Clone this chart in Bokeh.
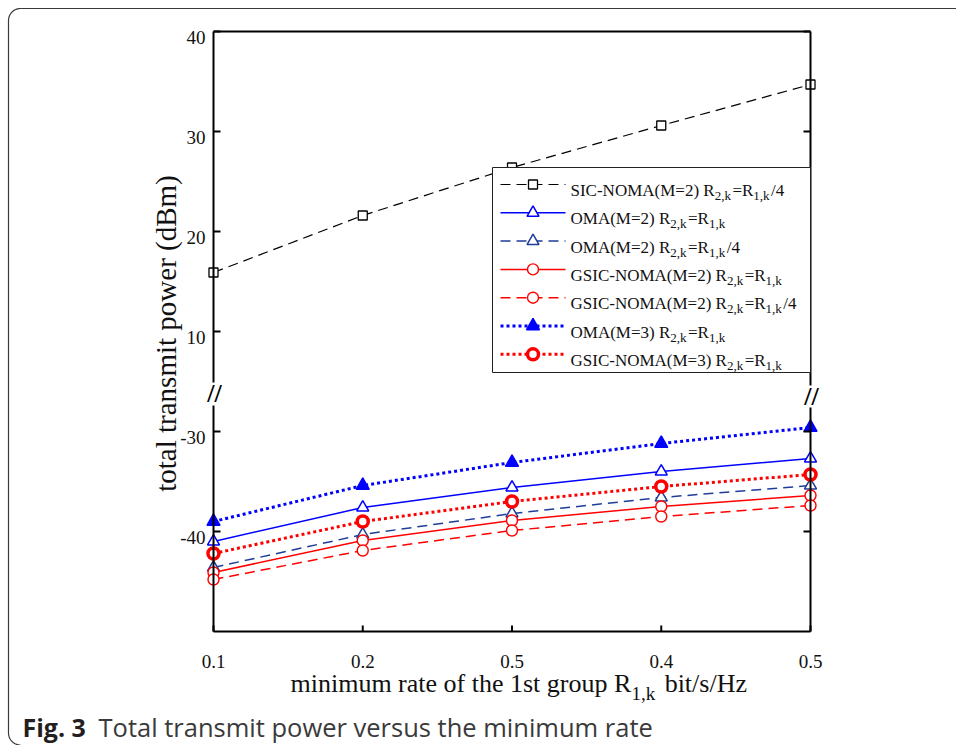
import math
from bokeh.plotting import figure
from bokeh.models import Range1d
from bokeh.core.properties import value
from bokeh.embed import file_html
from bokeh.resources import INLINE

# ---------------- data ----------------
rates = [0.1, 0.2, 0.3, 0.4, 0.5]
rate_tick_labels = ["0.1", "0.2", "0.5", "0.4", "0.5"]

sic_noma_m2_r4 = [15.9, 21.6, 26.4, 30.6, 34.7]
oma_m2_r1 = [-41.0, -37.6, -35.6, -34.0, -32.7]
oma_m2_r4 = [-43.6, -40.3, -38.2, -36.6, -35.4]
gsic_m2_r1 = [-44.1, -40.9, -38.9, -37.5, -36.4]
gsic_m2_r4 = [-44.8, -41.9, -39.9, -38.5, -37.4]
oma_m3_r1 = [-39.0, -35.4, -33.1, -31.2, -29.6]
gsic_m3_r1 = [-42.2, -39.0, -37.0, -35.5, -34.3]

upper_ticks = [10, 20, 30, 40]
lower_ticks = [-40, -30]

# ---------------- broken axis mapping ----------------
BREAK_SHIFT = 30          # lower segment is drawn shifted up by this amount
Y_MIN, Y_MAX = -20, 40    # plotted (broken) coordinates of the axes box
X_MIN, X_MAX = rates[0], rates[-1]

# ---------------- layout (page pixels) ----------------
FIG_W, FIG_H = 956, 745
FRAME_L, FRAME_R, FRAME_T, FRAME_B = 213, 810, 31, 631


def px2x(px):
    return X_MIN + (px - FRAME_L) / (FRAME_R - FRAME_L) * (X_MAX - X_MIN)


def py2y(py):
    return Y_MAX - (py - FRAME_T) / (FRAME_B - FRAME_T) * (Y_MAX - Y_MIN)


def lower(vals):
    return [v + BREAK_SHIFT for v in vals]


SERIF = "Liberation Serif"
TIMES_W = {' ': 250, '(': 333, ')': 333, '=': 564, '-': 333, '/': 278, ',': 250, '.': 250,
           'S': 556, 'I': 333, 'C': 667, 'N': 722, 'O': 722, 'M': 889, 'A': 722, 'G': 722,
           'R': 667, 'H': 722, 'k': 500, 'a': 444, 'b': 500, 'e': 444, 'f': 333, 'g': 500,
           'h': 500, 'i': 278, 'm': 778, 'n': 500, 'o': 500, 'p': 500, 'r': 333, 's': 389,
           't': 278, 'u': 500, 'z': 444}


def tw(s, size):
    return sum(TIMES_W.get(c, 500) for c in s) / 1000.0 * size


# The plotting frame covers the whole canvas so that nothing is clipped.
p = figure(width=FIG_W, height=FIG_H,
           x_range=Range1d(px2x(0), px2x(FIG_W)), y_range=Range1d(py2y(FIG_H), py2y(0)),
           x_axis_type=None, y_axis_type=None,
           output_backend="svg", toolbar_location=None,
           min_border=0)
p.outline_line_color = None
p.background_fill_color = "white"
p.border_fill_color = "white"


def txt(x, y, s, size, font=SERIF, align="left", baseline="alphabetic", color="#111111",
        style="normal", angle=0.0):
    p.text(x=[x], y=[y], text=[s], text_font=value(font), text_font_size=value(f"{size}px"),
           text_align=align, text_baseline=baseline, text_color=color,
           text_font_style=style, angle=angle)


# ---------------- page border (rounded) ----------------
R = 12
bx, by = [], []
bx.append(px2x(FIG_W)); by.append(py2y(8))
for k in range(0, 11):
    phi = math.radians(90 + 9 * k)
    bx.append(px2x(8 + R + R * math.cos(phi))); by.append(py2y(8 + R - R * math.sin(phi)))
for k in range(0, 11):
    phi = math.radians(180 + 9 * k)
    bx.append(px2x(8 + R + R * math.cos(phi))); by.append(py2y(744.5 - R - R * math.sin(phi)))
p.line(bx, by, line_color="#3a3a3a", line_width=1.2)

# ---------------- series ----------------
BLUE, RED, NAVY, BLACK = "#0000ff", "#ff0000", "#1f3d99", "#000000"
DASH, DOT = "10 6", "3 3"

series = [
    (sic_noma_m2_r4, False, dict(color=BLACK, width=1.2, dash=DASH, marker="square", size=9,
                                  fill="white", mlw=1.3)),
    (oma_m2_r1, True, dict(color=BLUE, width=1.5, dash="solid", marker="triangle", size=12,
                           fill="white", mlw=1.5)),
    (oma_m2_r4, True, dict(color=NAVY, width=1.5, dash=DASH, marker="triangle", size=12,
                           fill="white", mlw=1.5)),
    (gsic_m2_r1, True, dict(color=RED, width=1.5, dash="solid", marker="circle", size=11,
                            fill="white", mlw=1.4)),
    (gsic_m2_r4, True, dict(color=RED, width=1.5, dash=DASH, marker="circle", size=11,
                            fill="white", mlw=1.4)),
    (oma_m3_r1, True, dict(color=BLUE, width=3, dash=DOT, marker="triangle", size=13,
                           fill=BLUE, mlw=1.5)),
    (gsic_m3_r1, True, dict(color=RED, width=3, dash=DOT, marker="circle", size=11,
                            fill="white", mlw=3.5)),
]

for vals, is_lower, st in series:
    yv = lower(vals) if is_lower else vals
    p.line(rates, yv, line_color=st["color"], line_width=st["width"], line_dash=st["dash"])
    p.scatter(rates, yv, marker=st["marker"], size=st["size"], line_color=st["color"],
              fill_color=st["fill"], line_width=st["mlw"])

# ---------------- axes box with breaks ----------------
AX_LW = 2
ytick_pos = upper_ticks + lower(lower_ticks)
ytick_lab = [str(t) for t in upper_ticks] + [str(t) for t in lower_ticks]

p.segment(x0=[X_MIN, X_MIN, X_MAX, X_MAX, X_MIN, X_MIN],
          y0=[Y_MAX, py2y(405), Y_MAX, py2y(407), Y_MIN, Y_MAX],
          x1=[X_MIN, X_MIN, X_MAX, X_MAX, X_MAX, X_MAX],
          y1=[py2y(382), Y_MIN, py2y(385), Y_MIN, Y_MIN, Y_MAX],
          line_color="black", line_width=AX_LW)
p.segment(x0=[X_MIN] * len(ytick_pos), y0=ytick_pos, x1=[px2x(220)] * len(ytick_pos),
          y1=ytick_pos, line_color="black", line_width=AX_LW)
p.segment(x0=[px2x(803)] * len(ytick_pos), y0=ytick_pos, x1=[X_MAX] * len(ytick_pos),
          y1=ytick_pos, line_color="black", line_width=AX_LW)
p.segment(x0=rates, y0=[Y_MIN] * len(rates), x1=rates, y1=[py2y(625)] * len(rates),
          line_color="black", line_width=AX_LW)
p.text(x=[px2x(205)] * len(ytick_pos), y=[t - 0.64 for t in ytick_pos], text=ytick_lab,
       text_font=value(SERIF), text_font_size=value("19px"), text_align="right",
       text_baseline="alphabetic", text_color="#111111")
p.text(x=rates, y=[py2y(661)] * len(rates), text=rate_tick_labels,
       text_font=value(SERIF), text_font_size=value("19px"), text_align="center",
       text_baseline="alphabetic", text_color="#111111")
txt(px2x(214), py2y(393), "//", 26, align="center", baseline="middle", color="black",
    style="bold")
txt(px2x(811), py2y(396), "//", 26, align="center", baseline="middle", color="black",
    style="bold")


# ---------------- rich text helper ----------------
def rich(x_px, base_py, pieces, size, sub_size, drop, sub_gap, color="#111111"):
    x = x_px
    for t, is_sub in pieces:
        fs = sub_size if is_sub else size
        lead = len(t) - len(t.lstrip(" "))
        x += tw(" " * lead, fs)
        s = t.strip(" ")
        yb = base_py + (drop if is_sub else 0)
        txt(px2x(x), py2y(yb), s, fs, color=color)
        x += tw(s, fs) + (sub_gap if is_sub else 0)


# ---------------- legend ----------------
p.quad(left=[px2x(492)], right=[X_MAX], top=[py2y(167)], bottom=[py2y(372)],
       fill_color="white", line_color="#222222", line_width=1)

legend_pieces = [
    [("SIC-NOMA(M=2) R", 0), ("2,k", 1), ("=R", 0), ("1,k", 1), ("/4", 0)],
    [("OMA(M=2) R", 0), ("2,k", 1), ("=R", 0), ("1,k", 1)],
    [("OMA(M=2) R", 0), ("2,k", 1), ("=R", 0), ("1,k", 1), ("/4", 0)],
    [("GSIC-NOMA(M=2) R", 0), ("2,k", 1), ("=R", 0), ("1,k", 1)],
    [("GSIC-NOMA(M=2) R", 0), ("2,k", 1), ("=R", 0), ("1,k", 1), ("/4", 0)],
    [("OMA(M=3) R", 0), ("2,k", 1), ("=R", 0), ("1,k", 1)],
    [("GSIC-NOMA(M=3) R", 0), ("2,k", 1), ("=R", 0), ("1,k", 1)],
]
ROW0, ROW_STEP = 184, 28.3
for i, ((vals, is_lower, st), pieces) in enumerate(zip(series, legend_pieces)):
    cy = ROW0 + i * ROW_STEP
    p.line([px2x(500), px2x(565)], [py2y(cy), py2y(cy)], line_color=st["color"],
           line_width=st["width"], line_dash=st["dash"])
    p.scatter([px2x(532.5)], [py2y(cy)], marker=st["marker"], size=st["size"],
              line_color=st["color"], fill_color=st["fill"], line_width=st["mlw"])
    rich(570, cy + 6, pieces, 17, 13, 5, 1.5)

# ---------------- axis titles ----------------
txt(px2x(165), py2y(333), "total transmit power (dBm)", 29, align="center",
    baseline="alphabetic", angle=math.pi / 2)
rich(290, 683, [("minimum rate of the 1st group R", 0), ("1,k", 1), (" bit/s/Hz", 0)],
     26, 19, 10, 3)

# ---------------- caption ----------------
txt(px2x(22), py2y(726), "Fig. 3", 25, font="Open Sans", color="#231f20", style="bold")
txt(px2x(98), py2y(726), "Total transmit power versus the minimum rate", 25.5, font="Open Sans",
    color="#3a3a3a")

open("out.html", "w").write(file_html(p, INLINE))
